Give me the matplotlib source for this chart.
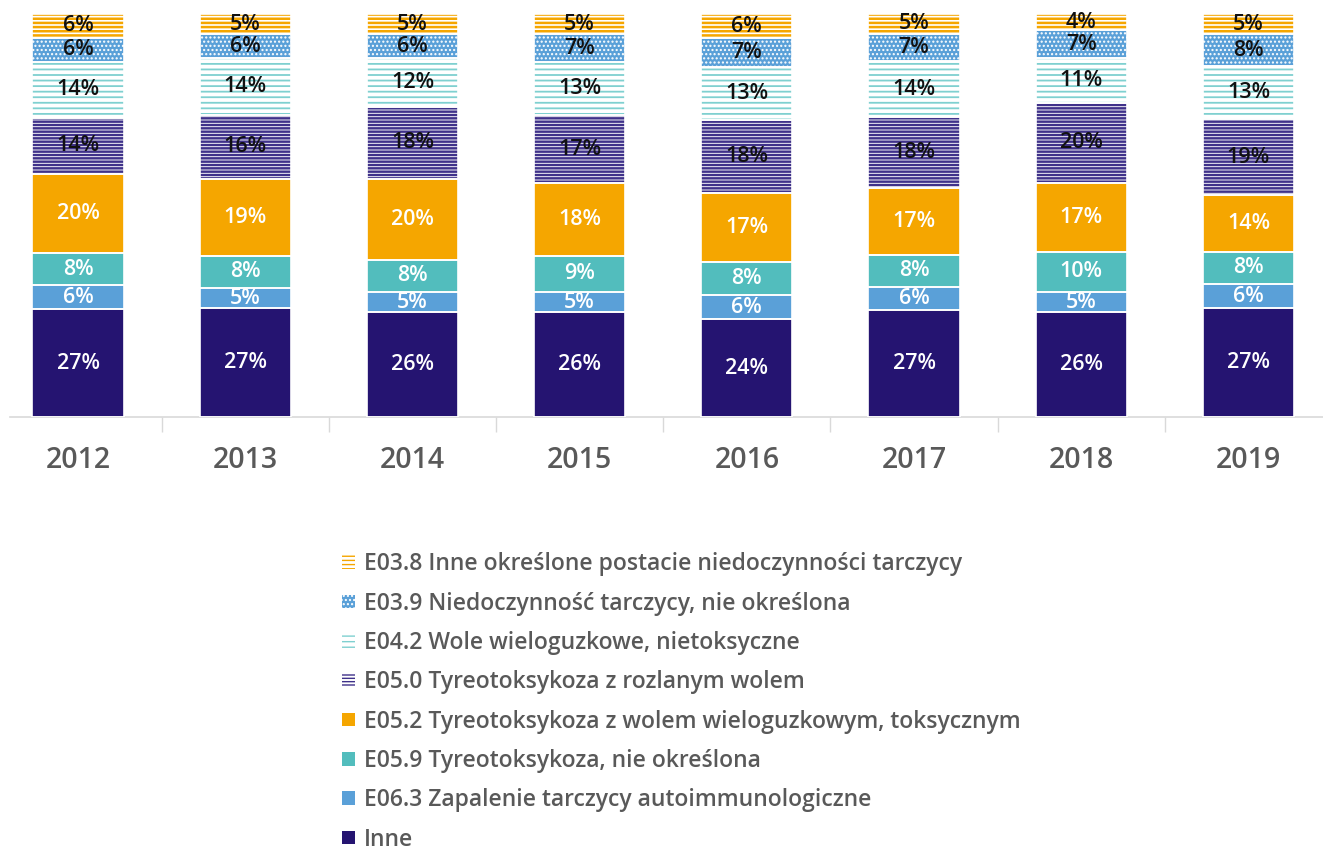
import matplotlib
matplotlib.use("Agg")
import matplotlib.pyplot as plt
import numpy as np
from matplotlib.patches import Patch

plt.rcParams['font.family'] = ['Open Sans', 'DejaVu Sans']
plt.rcParams['font.weight'] = 'semibold'

years = ['2012', '2013', '2014', '2015', '2016', '2017', '2018', '2019']

# stacking order: bottom -> top
series = [
    'Inne',
    'E06.3 Zapalenie tarczycy autoimmunologiczne',
    'E05.9 Tyreotoksykoza, nie określona',
    'E05.2 Tyreotoksykoza z wolem wieloguzkowym, toksycznym',
    'E05.0 Tyreotoksykoza z rozlanym wolem',
    'E04.2 Wole wieloguzkowe, nietoksyczne',
    'E03.9 Niedoczynność tarczycy, nie określona',
    'E03.8 Inne określone postacie niedoczynności tarczycy',
]

inne = [27, 27, 26, 26, 24, 27, 26, 27]
e063 = [6, 5, 5, 5, 6, 6, 5, 6]
e059 = [8, 8, 8, 9, 8, 8, 10, 8]
e052 = [20, 19, 20, 18, 17, 17, 17, 14]
e050 = [14, 16, 18, 17, 18, 18, 20, 19]
e042 = [14, 14, 12, 13, 13, 14, 11, 13]
e039 = [6, 6, 6, 7, 7, 7, 7, 8]
e038 = [6, 5, 5, 5, 6, 5, 4, 5]

values = np.array([inne, e063, e059, e052, e050, e042, e039, e038], dtype=float)
shares = values / values.sum(axis=0) * 100

# (face, hatch colour, hatch, hatch linewidth, label colour)
styles = [
    ('#251471', '#251471', None, 1.0, 'white'),
    ('#5aa0d8', '#5aa0d8', None, 1.0, 'white'),
    ('#52bdbd', '#52bdbd', None, 1.0, 'white'),
    ('#f5a600', '#f5a600', None, 1.0, 'white'),
    ('#ffffff', '#3f318a', '-----', 1.75, '#111111'),
    ('#ffffff', '#7fd0d0', '---', 1.3, '#111111'),
    ('#5aa0d8', '#ffffff', '....', 1.0, '#111111'),
    ('#ffffff', '#f5a600', '----', 1.8, '#111111'),
]

fig = plt.figure(figsize=(13.23, 8.49), dpi=100)
ax = fig.add_axes([10 / 1323, (849 - 417) / 849, 1313 / 1323, 403 / 849])

x = np.arange(len(years))
width = 0.545
bottom = np.zeros(len(years))
handles = []
for i, name in enumerate(series):
    face, hc, hatch, hlw, tc = styles[i]
    with plt.rc_context({'hatch.linewidth': hlw}):
        bars = ax.bar(x, shares[i], width, bottom=bottom, color=face,
                      edgecolor=hc, linewidth=0, hatch=hatch, zorder=2)
        for b in bars:
            if hasattr(b, 'set_hatch_linewidth'):
                b.set_hatch_linewidth(hlw)
        ax.bar(x, shares[i], width, bottom=bottom, color='none',
               edgecolor='white', linewidth=1.2, zorder=3)
        h = Patch(facecolor=face, edgecolor=hc, hatch=hatch, linewidth=0, label=name)
        if hasattr(h, 'set_hatch_linewidth'):
            h.set_hatch_linewidth(hlw)
        handles.append(h)
    for j in range(len(years)):
        ax.text(x[j], bottom[j] + shares[i][j] / 2, '%d%%' % values[i][j],
                ha='center', va='center', fontsize=15.5, color=tc, zorder=4)
    bottom += shares[i]

ax.set_xlim(-0.407, 7.446)
ax.set_ylim(0, 100)
ax.set_yticks([])
ax.set_xticks(x)
ax.set_xticklabels(years, fontsize=20.5, color='#595959')
ax.set_xticks(np.arange(0.5, 7, 1), minor=True)
ax.tick_params(axis='x', which='major', length=0, pad=21)
ax.tick_params(axis='x', which='minor', length=11, width=1, color='#d9d9d9')
for s in ['top', 'right', 'left']:
    ax.spines[s].set_visible(False)
ax.spines['bottom'].set_color('#d9d9d9')
ax.spines['bottom'].set_linewidth(1.2)

leg = fig.legend(handles[::-1], [s for s in series[::-1]], loc='upper left',
                 bbox_to_anchor=(333 / 1323, 1 - 543 / 849), frameon=False,
                 fontsize=16.5, handlelength=0.55, handleheight=0.55,
                 handletextpad=0.4, labelspacing=0.67, borderaxespad=0)
for t in leg.get_texts():
    t.set_color('#595959')

fig.savefig('out.png', dpi=100)
